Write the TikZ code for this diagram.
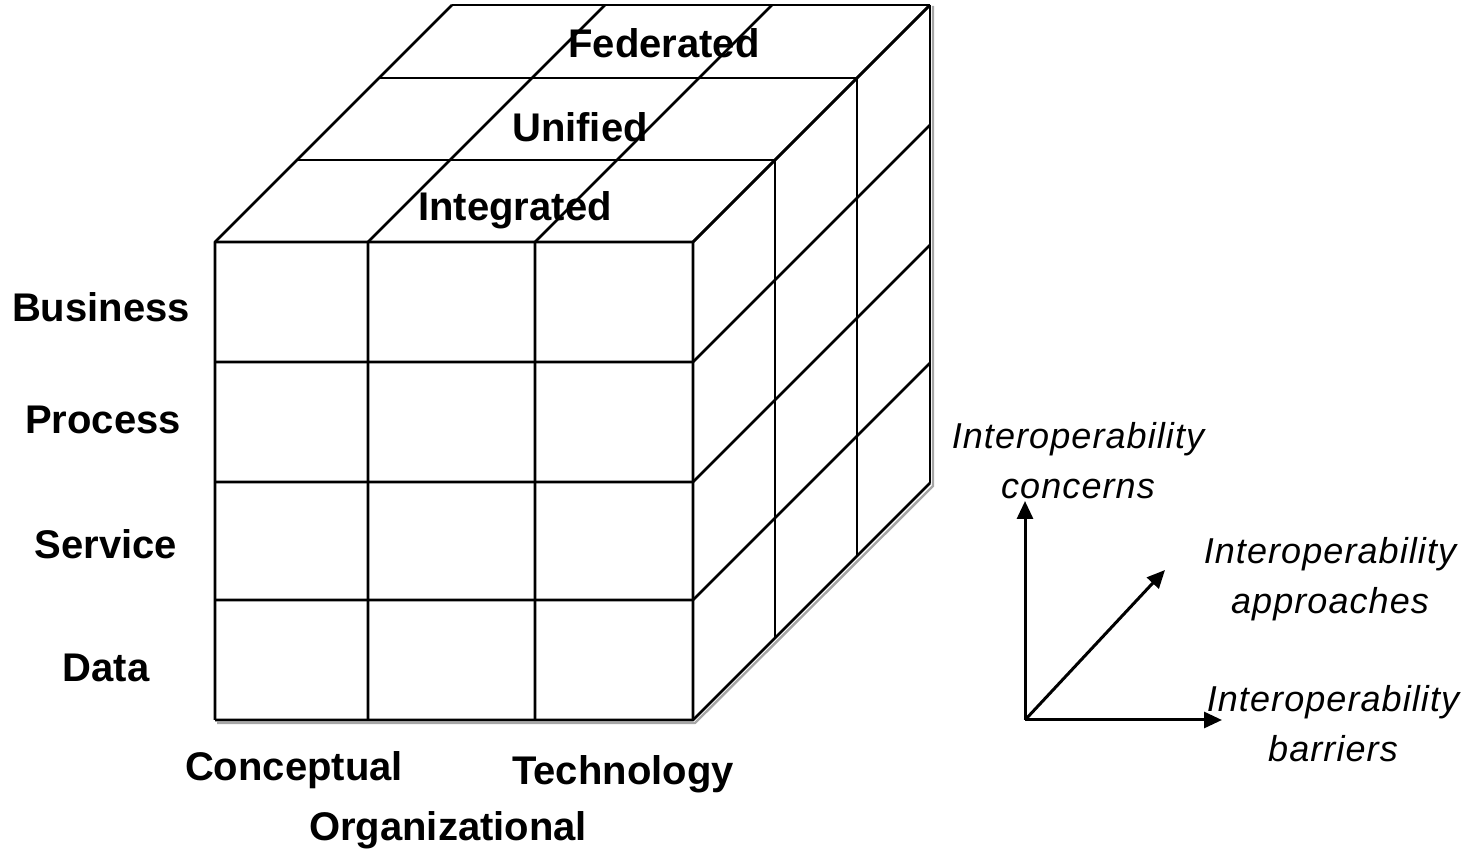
\documentclass[tikz,border=0pt]{standalone}
\usepackage{fontspec}
\setmainfont{Liberation Sans}
\newfontfamily\axisfont[LetterSpace=3]{Liberation Sans}
\usetikzlibrary{arrows.meta}
\tikzset{
  cube/.style={line width=1.4pt},
  layer/.style={font=\fontsize{20}{24}\selectfont\bfseries},
  axis/.style={font=\axisfont\itshape\fontsize{18}{25}\selectfont, align=center},
  axisarrow/.style={line width=1.5pt,-{Triangle[length=9pt,width=8pt]}}
}
\begin{document}
\begin{tikzpicture}[x=0.5pt,y=-0.5pt,line join=round]
  \useasboundingbox (0,0) rectangle (1473,854);

  \draw[gray!70,line width=1.2pt] (217,723) -- (695,723) -- (933,486) -- (933,6);
  \begin{scope}[cube]
    \foreach \d in {0,82,164,237} \draw (215+\d,242-\d) -- (693+\d,242-\d);
    \foreach \x in {215,368,535,693} \draw (\x,720) -- (\x,242) -- ++(237,-237);
    \foreach \y in {242,362,482,600,720} \draw (215,\y) -- (693,\y) -- ++(237,-237);
    \foreach \d in {82,164,237} \draw (693+\d,242-\d) -- (693+\d,720-\d);
  \end{scope}

  \node[layer] (federated) at (664,43) {Federated};
  \node[layer] (unified) at (580,127) {Unified};
  \node[layer] (integrated) at (515,210) {Integrated};
  \node[layer] (business) at (101,307) {Business};
  \node[layer] (process) at (103,420) {Process};
  \node[layer] (service) at (106,544) {Service};
  \node[layer] (data) at (106,668) {Data};
  \node[layer] (conceptual) at (294,770) {Conceptual};
  \node[layer] (technology) at (623,774) {Technology};
  \node[layer] (organizational) at (448,830) {Organizational};

  \coordinate (origin) at (1025,720);
  \coordinate (upend) at (1025,501);
  \coordinate (rightend) at (1222,720);
  \coordinate (diagend) at (1165,570);
  \draw[axisarrow] (origin) -- (upend);
  \draw[axisarrow] (origin) -- (rightend);
  \draw[axisarrow] (origin) -- (diagend);
  \node[axis] (concerns) at (1078,461) {Interoperability\\concerns};
  \node[axis] (approaches) at (1330,579) {Interoperability\\approaches};
  \node[axis] (barriers) at (1333,724) {Interoperability\\barriers};
\end{tikzpicture}
\end{document}
